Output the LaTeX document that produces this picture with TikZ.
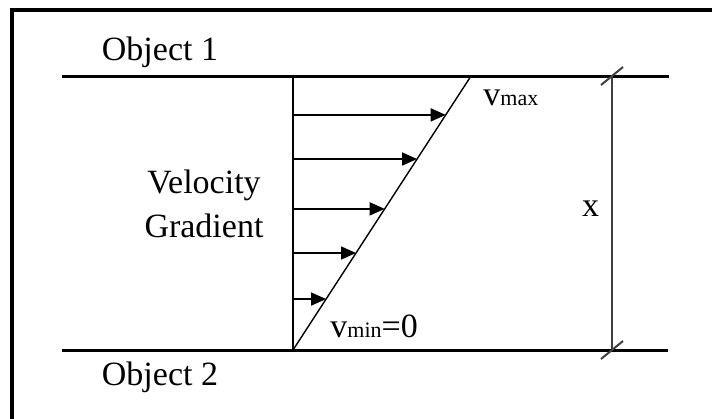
\documentclass[tikz,border=0pt]{standalone}
\usepackage{fontspec}
\setmainfont{Liberation Serif}
\usetikzlibrary{arrows.meta,calc}
\definecolor{dimGray}{HTML}{404040}

\begin{document}
\begin{tikzpicture}[
  x=0.5pt,y=-0.5pt,
  font=\fontsize{17}{22}\selectfont,
  lbl/.style={inner sep=0pt,anchor=base},
  frame/.style={line width=2pt},
  plate/.style={line width=1.5pt},
  profile/.style={line width=1pt},
  vel/.style={-{Triangle[length=7.5pt,width=6.5pt]},line width=0.8pt},
  dimline/.style={draw=dimGray,line width=1pt},
  tick/.style={draw=dimGray,line width=1pt}
]
\useasboundingbox (0,0) rectangle (712,418);
\draw[frame] (12,420) -- (12,10) -- (714,10);

\coordinate (p1w) at (62,76);
\coordinate (p1e) at (669,76);
\coordinate (p2w) at (62,350);
\coordinate (p2e) at (668,350);
\draw[plate] (p1w) -- (p1e);
\draw[plate] (p2w) -- (p2e);

\node[lbl] (obj1) at (160,60) {Object 1};
\node[lbl] (obj2) at (160,385) {Object 2};

\coordinate (bb) at (293,350);
\coordinate (bt) at (293,76);
\coordinate (dt) at (471,76);
\draw[profile] (bb) -- (bt);
\draw[line width=0.7pt] (bb) -- (dt);
\foreach \t [count=\i] in {0.186,0.354,0.515,0.697,0.858}{
  \coordinate (v\i) at ($(bb)!\t!(dt)$);
  \draw[vel] (bb |- v\i) -- (v\i);
}

\node[lbl] (velo) at (204,193) {Velocity};
\node[lbl] (grad) at (204,237) {Gradient};

\node[lbl,anchor=base west] (vmax) at (483,105)
  {v{\fontsize{11}{13}\selectfont max}};
\node[lbl,anchor=base west] (vmin) at (330,337)
  {v{\fontsize{11}{13}\selectfont min}=0};

\coordinate (dtop) at (612,76);
\coordinate (dbot) at (612,350);
\draw[dimline] (dtop) -- (dbot);
\draw[tick] ($(dtop)+(-11,9)$) -- ($(dtop)+(11,-9)$);
\draw[tick] ($(dbot)+(-11,9)$) -- ($(dbot)+(11,-9)$);
\node[lbl] (dx) at (590.5,216) {x};
\end{tikzpicture}
\end{document}
